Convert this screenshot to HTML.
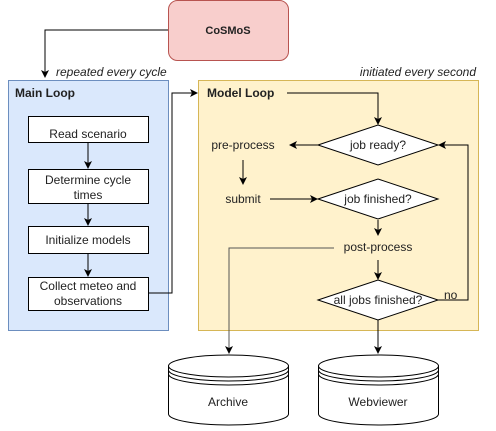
<!DOCTYPE html>
<html><head><style>
html,body{margin:0;padding:0;background:#fff;}
svg text{font-family:"Liberation Sans",Arial,sans-serif;font-size:12px;fill:#222;}
</style></head><body>
<svg width="496" height="426" xmlns="http://www.w3.org/2000/svg">
<defs><marker id="a" markerWidth="8" markerHeight="8" refX="7" refY="4" orient="auto" markerUnits="userSpaceOnUse"><path d="M0,0 L8,4 L0,8 L2,4 Z" fill="#000"/></marker></defs>
<rect x="168.5" y="0.5" width="120" height="60" rx="9" fill="#f8cecc" stroke="#b85450"/>
<text x="228" y="34" text-anchor="middle" style="font-weight:bold;font-size:11px">CoSMoS</text>
<path d="M168,30 H45 V77" fill="none" stroke="#000" marker-end="url(#a)"/>
<text x="56" y="76" style="font-style:italic">repeated every cycle</text>
<text x="476" y="76" text-anchor="end" style="font-style:italic">initiated every second</text>
<rect x="8.5" y="80.5" width="160" height="250" fill="#dae8fc" stroke="#6c8ebf"/>
<text x="15" y="97" style="font-weight:bold">Main Loop</text>
<g fill="#fff" stroke="#000">
<rect x="28.5" y="116.5" width="120" height="26"/>
<rect x="28.5" y="169.5" width="120" height="34"/>
<rect x="28.5" y="226.5" width="120" height="27"/>
<rect x="28.5" y="277.5" width="120" height="33"/>
</g>
<text x="88" y="138" text-anchor="middle">Read scenario</text>
<text x="88" y="184" text-anchor="middle">Determine cycle</text>
<text x="88" y="199" text-anchor="middle">times</text>
<text x="88" y="244" text-anchor="middle">Initialize models</text>
<text x="88" y="290" text-anchor="middle">Collect meteo and</text>
<text x="88" y="305" text-anchor="middle">observations</text>
<g stroke="#000" fill="none" marker-end="url(#a)">
<path d="M88,143 V168"/><path d="M88,204 V225"/><path d="M88,254 V276"/>
</g>
<rect x="198.5" y="80.5" width="280" height="250" fill="#fff2cc" stroke="#d6b656"/>
<path d="M148,293 H172 V93 H197" fill="none" stroke="#000" marker-end="url(#a)"/>
<text x="207" y="97" style="font-weight:bold">Model Loop</text>
<g fill="#fff" stroke="#000">
<path d="M318,145 L378,125 L438,145 L378,165 Z"/>
<path d="M318,199 L378,179 L438,199 L378,219 Z"/>
<path d="M318,300 L378,280 L438,300 L378,320 Z"/>
</g>
<text x="378" y="149" text-anchor="middle">job ready?</text>
<text x="378" y="203" text-anchor="middle">job finished?</text>
<text x="378" y="304" text-anchor="middle">all jobs finished?</text>
<text x="243" y="149" text-anchor="middle">pre-process</text>
<text x="243" y="203" text-anchor="middle">submit</text>
<text x="378" y="251" text-anchor="middle">post-process</text>
<text x="444" y="299">no</text>
<g stroke="#000" fill="none">
<path d="M287,93 H378 V124" marker-end="url(#a)"/>
<path d="M318,145 H290" marker-end="url(#a)"/>
<path d="M243,160 V184" marker-end="url(#a)"/>
<path d="M270,199 H317" marker-end="url(#a)"/>
<path d="M378,220 V235" marker-end="url(#a)"/>
<path d="M378,260 V279" marker-end="url(#a)"/>
<path d="M438,300 H468 V145 H439" marker-end="url(#a)"/>
<path d="M334,248 H229 V353" stroke="#555" marker-end="url(#a)"/>
<path d="M378,320 V353" marker-end="url(#a)"/>
</g>
<g fill="#fff" stroke="#000">
<path d="M168.5,366 A60,11 0 0 1 288.5,366 V414 A60,11 0 0 1 168.5,414 Z"/>
<path d="M168.5,366 A60,11 0 0 0 288.5,366 M168.5,370 A60,11 0 0 0 288.5,370 M168.5,374 A60,11 0 0 0 288.5,374" fill="none"/>
<path d="M318.5,366 A60,11 0 0 1 438.5,366 V414 A60,11 0 0 1 318.5,414 Z"/>
<path d="M318.5,366 A60,11 0 0 0 438.5,366 M318.5,370 A60,11 0 0 0 438.5,370 M318.5,374 A60,11 0 0 0 438.5,374" fill="none"/>
</g>
<text x="228" y="406" text-anchor="middle">Archive</text>
<text x="378" y="406" text-anchor="middle">Webviewer</text>
</svg>
</body></html>
